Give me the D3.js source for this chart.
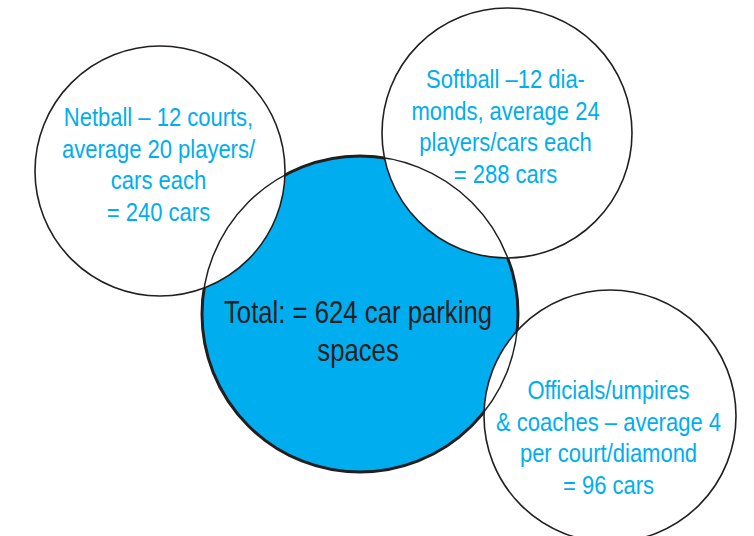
<!DOCTYPE html>
<html>
<head>
<meta charset="utf-8">
<script src="https://cdn.jsdelivr.net/npm/d3@7"></script>
<style>
  html, body { margin: 0; padding: 0; background: #fff; }
  svg { display: block; }
</style>
</head>
<body>
<div id="chart"></div>
<script>
// ---- data ----
const categories = ["Netball", "Softball", "Officials"];
const carCounts = [240, 288, 96];
const totalSpaces = 624;
const categoryLines = [
  ["Netball – 12 courts,", "average 20 players/", "cars each", "= 240 cars"],
  ["Softball –12 dia-", "monds, average 24", "players/cars each", "= 288 cars"],
  ["Officials/umpires", "& coaches – average 4", "per court/diamond", "= 96 cars"]
];
const totalLines = ["Total: = " + totalSpaces + " car parking", "spaces"];

// ---- layout (positions / sizes / styles) ----
const W = 754, H = 536;
const layout = {
  Netball:   { cx: 160, cy: 171, r: 125, textDy: -45 },
  Softball:  { cx: 507, cy: 133, r: 125, textDy: -45 },
  Officials: { cx: 610, cy: 416, r: 126, textDy: -17 }
};
const big = { cx: 360, cy: 314, r: 158, textDy: 9 };
const BLUE = "#00aeef";
const DARK = "#231f20";
const FONT = "'Liberation Sans Narrow', 'Arial Narrow', 'Liberation Sans', Arial, sans-serif";

const svg = d3.select("#chart").append("svg")
  .attr("width", W).attr("height", H);

const nodes = categories.map((c, i) => ({ name: c, cars: carCounts[i], lines: categoryLines[i], ...layout[c] }));

// big circle fill + thick stroke
svg.append("circle")
  .attr("cx", big.cx).attr("cy", big.cy).attr("r", big.r)
  .attr("fill", BLUE).attr("stroke", DARK).attr("stroke-width", 3);

// small circles (white fill on top)
svg.selectAll("circle.cat").data(nodes).join("circle")
  .attr("class", "cat")
  .attr("cx", d => d.cx).attr("cy", d => d.cy).attr("r", d => d.r)
  .attr("fill", "#fff").attr("stroke", DARK).attr("stroke-width", 1.6);

// thin outline of big circle visible through the small circles
svg.append("circle")
  .attr("cx", big.cx).attr("cy", big.cy).attr("r", big.r)
  .attr("fill", "none").attr("stroke", DARK).attr("stroke-width", 1.5);

// category labels
const lineH = 31.7;
const labels = svg.selectAll("g.lab").data(nodes).join("g")
  .attr("class", "lab")
  .attr("transform", d => `translate(${d.cx - 1.5},${d.cy + d.textDy}) scale(0.88,1)`);
labels.selectAll("text").data(d => d.lines).join("text")
  .attr("x", 0).attr("y", (d, i) => i * lineH)
  .attr("text-anchor", "middle")
  .attr("font-family", FONT)
  .attr("font-size", 25)
  .attr("fill", BLUE)
  .text(d => d);

// total label
const tg = svg.append("g").attr("transform", `translate(${big.cx - 2},${big.cy + big.textDy}) scale(0.83,1)`);
tg.selectAll("text").data(totalLines).join("text")
  .attr("x", 0).attr("y", (d, i) => i * 38.5)
  .attr("text-anchor", "middle")
  .attr("font-family", FONT)
  .attr("font-size", 31)
  .attr("fill", DARK)
  .text(d => d);
</script>
</body>
</html>
